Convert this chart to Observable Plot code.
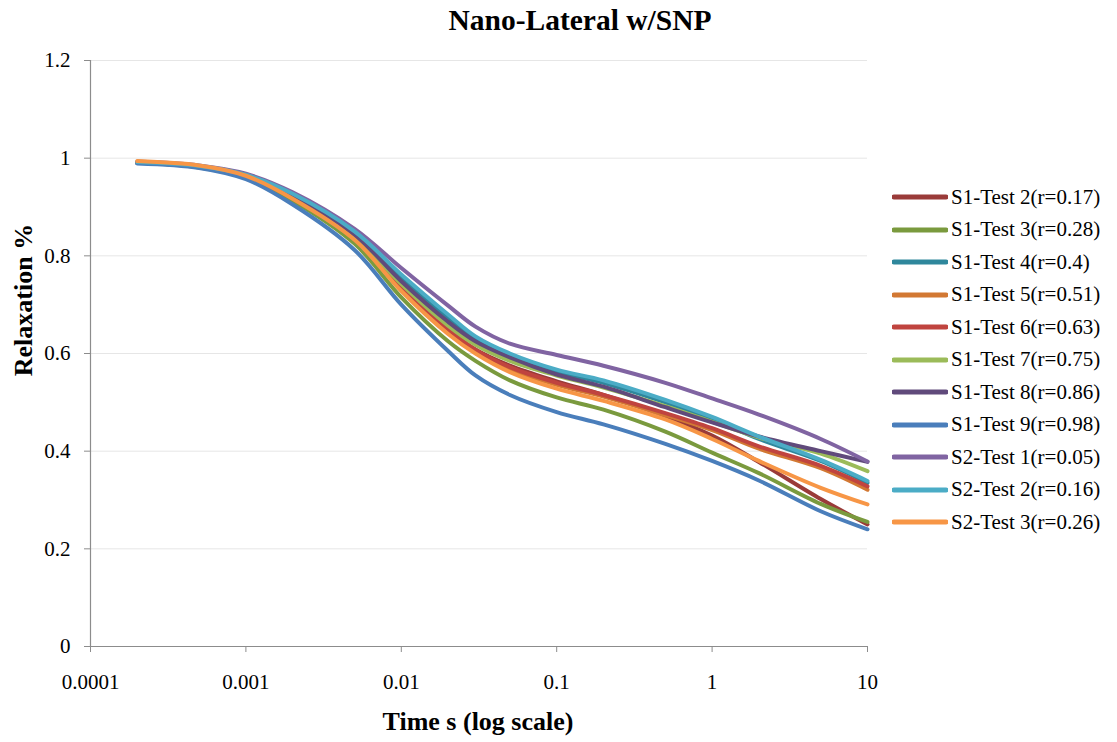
<!DOCTYPE html>
<html>
<head>
<meta charset="utf-8">
<script src="https://cdn.jsdelivr.net/npm/d3@7"></script>
<script src="https://cdn.jsdelivr.net/npm/@observablehq/plot@0.6"></script>
<style>
  body { margin: 0; background: #fff; }
  #wrap { position: relative; width: 1117px; height: 742px; font-family: "Liberation Serif", "Times New Roman", serif; color: #000; }
  #chart { position: absolute; left: 0; top: 0; }
  .title { position: absolute; left: 580px; top: 20px; transform: translate(-50%, -50%); font-weight: bold; font-size: 29.5px; white-space: nowrap; }
  .ylab { position: absolute; left: 24px; top: 300px; transform: translate(-50%, -50%) rotate(-90deg); font-weight: bold; font-size: 26px; white-space: nowrap; }
  .xlab { position: absolute; left: 478px; top: 722px; transform: translate(-50%, -50%); font-weight: bold; font-size: 26px; white-space: nowrap; }
  #legend { position: absolute; left: 892px; top: 181px; }
  .row { display: flex; align-items: center; height: 32.5px; font-size: 21px; white-space: nowrap; }
  .row svg { margin-right: 3px; }
</style>
</head>
<body>
<div id="wrap">
  <div id="chart"></div>
  <div class="title">Nano-Lateral w/SNP</div>
  <div class="ylab">Relaxation %</div>
  <div class="xlab">Time s (log scale)</div>
  <div id="legend"></div>
</div>
<script>
// Sample times (s) at which each relaxation curve is tabulated
const times = [0.0002, 0.0005, 0.001, 0.002, 0.005, 0.01, 0.02, 0.03, 0.05, 0.1, 0.2, 0.5, 1, 2, 5, 10];

const seriesNames = [
  "S1-Test 2(r=0.17)", "S1-Test 3(r=0.28)", "S1-Test 4(r=0.4)", "S1-Test 5(r=0.51)",
  "S1-Test 6(r=0.63)", "S1-Test 7(r=0.75)", "S1-Test 8(r=0.86)", "S1-Test 9(r=0.98)",
  "S2-Test 1(r=0.05)", "S2-Test 2(r=0.16)", "S2-Test 3(r=0.26)"
];

const seriesColors = [
  "#9a3b39", "#7a9a3e", "#2f879c", "#d27833", "#c0443f", "#9bbb59",
  "#604a7b", "#4a7ebb", "#8064a2", "#4bacc6", "#f79646"
];

// Relaxation values, one array per test, aligned with `times`
const s1Test2 = [0.991, 0.982, 0.962, 0.918, 0.835, 0.735, 0.648, 0.608, 0.575, 0.543, 0.515, 0.472, 0.432, 0.378, 0.302, 0.250];
const s1Test3 = [0.991, 0.981, 0.960, 0.913, 0.825, 0.715, 0.625, 0.585, 0.545, 0.510, 0.485, 0.440, 0.397, 0.355, 0.292, 0.255];
const s1Test4 = [0.991, 0.983, 0.965, 0.925, 0.845, 0.755, 0.672, 0.628, 0.593, 0.562, 0.540, 0.500, 0.466, 0.425, 0.380, 0.335];
const s1Test5 = [0.991, 0.982, 0.962, 0.918, 0.835, 0.735, 0.645, 0.604, 0.568, 0.536, 0.512, 0.474, 0.443, 0.405, 0.365, 0.321];
const s1Test6 = [0.991, 0.982, 0.963, 0.920, 0.837, 0.738, 0.650, 0.608, 0.572, 0.540, 0.515, 0.478, 0.447, 0.410, 0.370, 0.328];
const s1Test7 = [0.991, 0.982, 0.963, 0.920, 0.840, 0.742, 0.657, 0.618, 0.585, 0.555, 0.530, 0.492, 0.460, 0.428, 0.395, 0.359];
const s1Test8 = [0.991, 0.982, 0.964, 0.922, 0.843, 0.748, 0.665, 0.625, 0.592, 0.557, 0.532, 0.490, 0.459, 0.430, 0.400, 0.378];
const s1Test9 = [0.989, 0.980, 0.957, 0.905, 0.812, 0.700, 0.605, 0.555, 0.515, 0.480, 0.455, 0.415, 0.380, 0.340, 0.277, 0.240];
const s2Test1 = [0.993, 0.985, 0.968, 0.930, 0.855, 0.775, 0.698, 0.655, 0.620, 0.597, 0.575, 0.540, 0.508, 0.475, 0.425, 0.379];
const s2Test2 = [0.992, 0.984, 0.966, 0.927, 0.850, 0.762, 0.680, 0.635, 0.600, 0.567, 0.545, 0.505, 0.470, 0.430, 0.382, 0.339];
const s2Test3 = [0.994, 0.985, 0.964, 0.917, 0.833, 0.728, 0.640, 0.600, 0.562, 0.528, 0.503, 0.465, 0.425, 0.380, 0.325, 0.291];

const seriesValues = [s1Test2, s1Test3, s1Test4, s1Test5, s1Test6, s1Test7, s1Test8, s1Test9, s2Test1, s2Test2, s2Test3];

const xTicks = [0.0001, 0.001, 0.01, 0.1, 1, 10];
const yTicks = [0, 0.2, 0.4, 0.6, 0.8, 1, 1.2];

// Long-format table for Plot
const rows = seriesNames.flatMap((name, i) =>
  seriesValues[i].map((v, j) => ({series: name, t: times[j], v}))
);

const axisGray = "#8c8c8c";

const chart = Plot.plot({
  width: 1117,
  height: 742,
  marginLeft: 90,
  marginRight: 250,
  marginTop: 60,
  marginBottom: 96,
  style: {fontFamily: "'Liberation Serif', 'Times New Roman', serif", fontSize: "21px", color: "#000", background: "transparent"},
  x: {type: "log", domain: [0.0001, 10]},
  y: {domain: [0, 1.2]},
  color: {domain: seriesNames, range: seriesColors},
  marks: [
    Plot.ruleY(yTicks.filter(d => d > 0), {stroke: "#e6e6e6", strokeWidth: 1}),
    Plot.ruleX([0.0001], {stroke: axisGray, strokeWidth: 1.2}),
    Plot.ruleY([0], {stroke: axisGray, strokeWidth: 1.2}),
    Plot.axisY({ticks: yTicks, tickFormat: d => String(d), tickSize: 6, tickPadding: 14, stroke: axisGray, fill: "#000", label: null}),
    Plot.axisX({ticks: xTicks, tickFormat: d => String(d), tickSize: 6, tickPadding: 22, stroke: axisGray, fill: "#000", label: null}),
    Plot.line(rows, {x: "t", y: "v", z: "series", stroke: "series", strokeWidth: 4, curve: "catmull-rom"})
  ]
});
document.getElementById("chart").appendChild(chart);

// Legend with line swatches
const legend = document.getElementById("legend");
seriesNames.forEach((name, i) => {
  const row = document.createElement("div");
  row.className = "row";
  row.innerHTML = `<svg width="56" height="8"><line x1="2" y1="4" x2="54" y2="4" stroke="${seriesColors[i]}" stroke-width="5" stroke-linecap="round"/></svg><span>${name}</span>`;
  legend.appendChild(row);
});
</script>
</body>
</html>
